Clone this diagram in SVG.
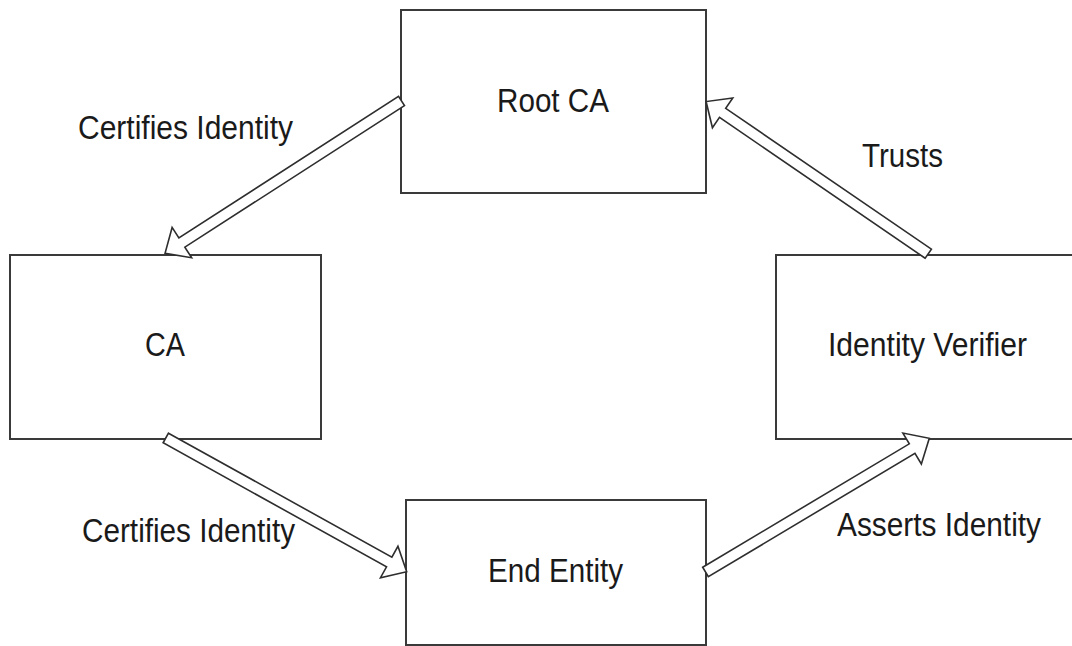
<svg xmlns="http://www.w3.org/2000/svg" width="1072" height="646" viewBox="0 0 1072 646">
  <style>
    .box { fill: #ffffff; stroke: #3a3a3a; stroke-width: 2; }
    .arrow { fill: #ffffff; stroke: #2e2e2e; stroke-width: 1.6; stroke-linejoin: miter; }
    .label { font-family: "Liberation Sans", Arial, sans-serif; font-size: 33px; fill: #1a1a1a; }
  </style>
  <rect width="1072" height="646" fill="#ffffff"/>

  <g id="node-root-ca">
    <rect class="box" x="401" y="10" width="305" height="183"/>
    <text class="label" x="497" y="112" textLength="112" lengthAdjust="spacingAndGlyphs">Root CA</text>
  </g>
  <g id="node-ca">
    <rect class="box" x="10" y="255" width="311" height="184"/>
    <text class="label" x="145" y="356" textLength="40" lengthAdjust="spacingAndGlyphs">CA</text>
  </g>
  <g id="node-identity-verifier">
    <rect class="box" x="776" y="255" width="310" height="184"/>
    <text class="label" x="828" y="356" textLength="199" lengthAdjust="spacingAndGlyphs">Identity Verifier</text>
  </g>
  <g id="node-end-entity">
    <rect class="box" x="406" y="500" width="300" height="145"/>
    <text class="label" x="488" y="582" textLength="135" lengthAdjust="spacingAndGlyphs">End Entity</text>
  </g>

  <!-- hollow block arrows, drawn along +x from the tail, then placed -->
  <g id="connectors">
    <polygon class="arrow" transform="translate(401.5,101) rotate(147.2)"
      points="0,-5.5 261.3,-5.5 261.3,-18 281.3,0 261.3,18 261.3,5.5 0,5.5"/>
    <polygon class="arrow" transform="translate(165.8,438) rotate(29.03)"
      points="0,-5.5 255.5,-5.5 255.5,-18 275.5,0 255.5,18 255.5,5.5 0,5.5"/>
    <polygon class="arrow" transform="translate(928.3,253.7) rotate(-145.6)"
      points="0,-5.5 249.3,-5.5 249.3,-18 269.3,0 249.3,18 249.3,5.5 0,5.5"/>
    <polygon class="arrow" transform="translate(705.5,572) rotate(-30.86)"
      points="0,-5.5 240.7,-5.5 240.7,-18 260.7,0 240.7,18 240.7,5.5 0,5.5"/>
  </g>

  <g id="edge-labels">
    <text class="label" x="78" y="139" textLength="215" lengthAdjust="spacingAndGlyphs">Certifies Identity</text>
    <text class="label" x="82" y="542" textLength="213" lengthAdjust="spacingAndGlyphs">Certifies Identity</text>
    <text class="label" x="862" y="167" textLength="81" lengthAdjust="spacingAndGlyphs">Trusts</text>
    <text class="label" x="837" y="536" textLength="204" lengthAdjust="spacingAndGlyphs">Asserts Identity</text>
  </g>
</svg>
